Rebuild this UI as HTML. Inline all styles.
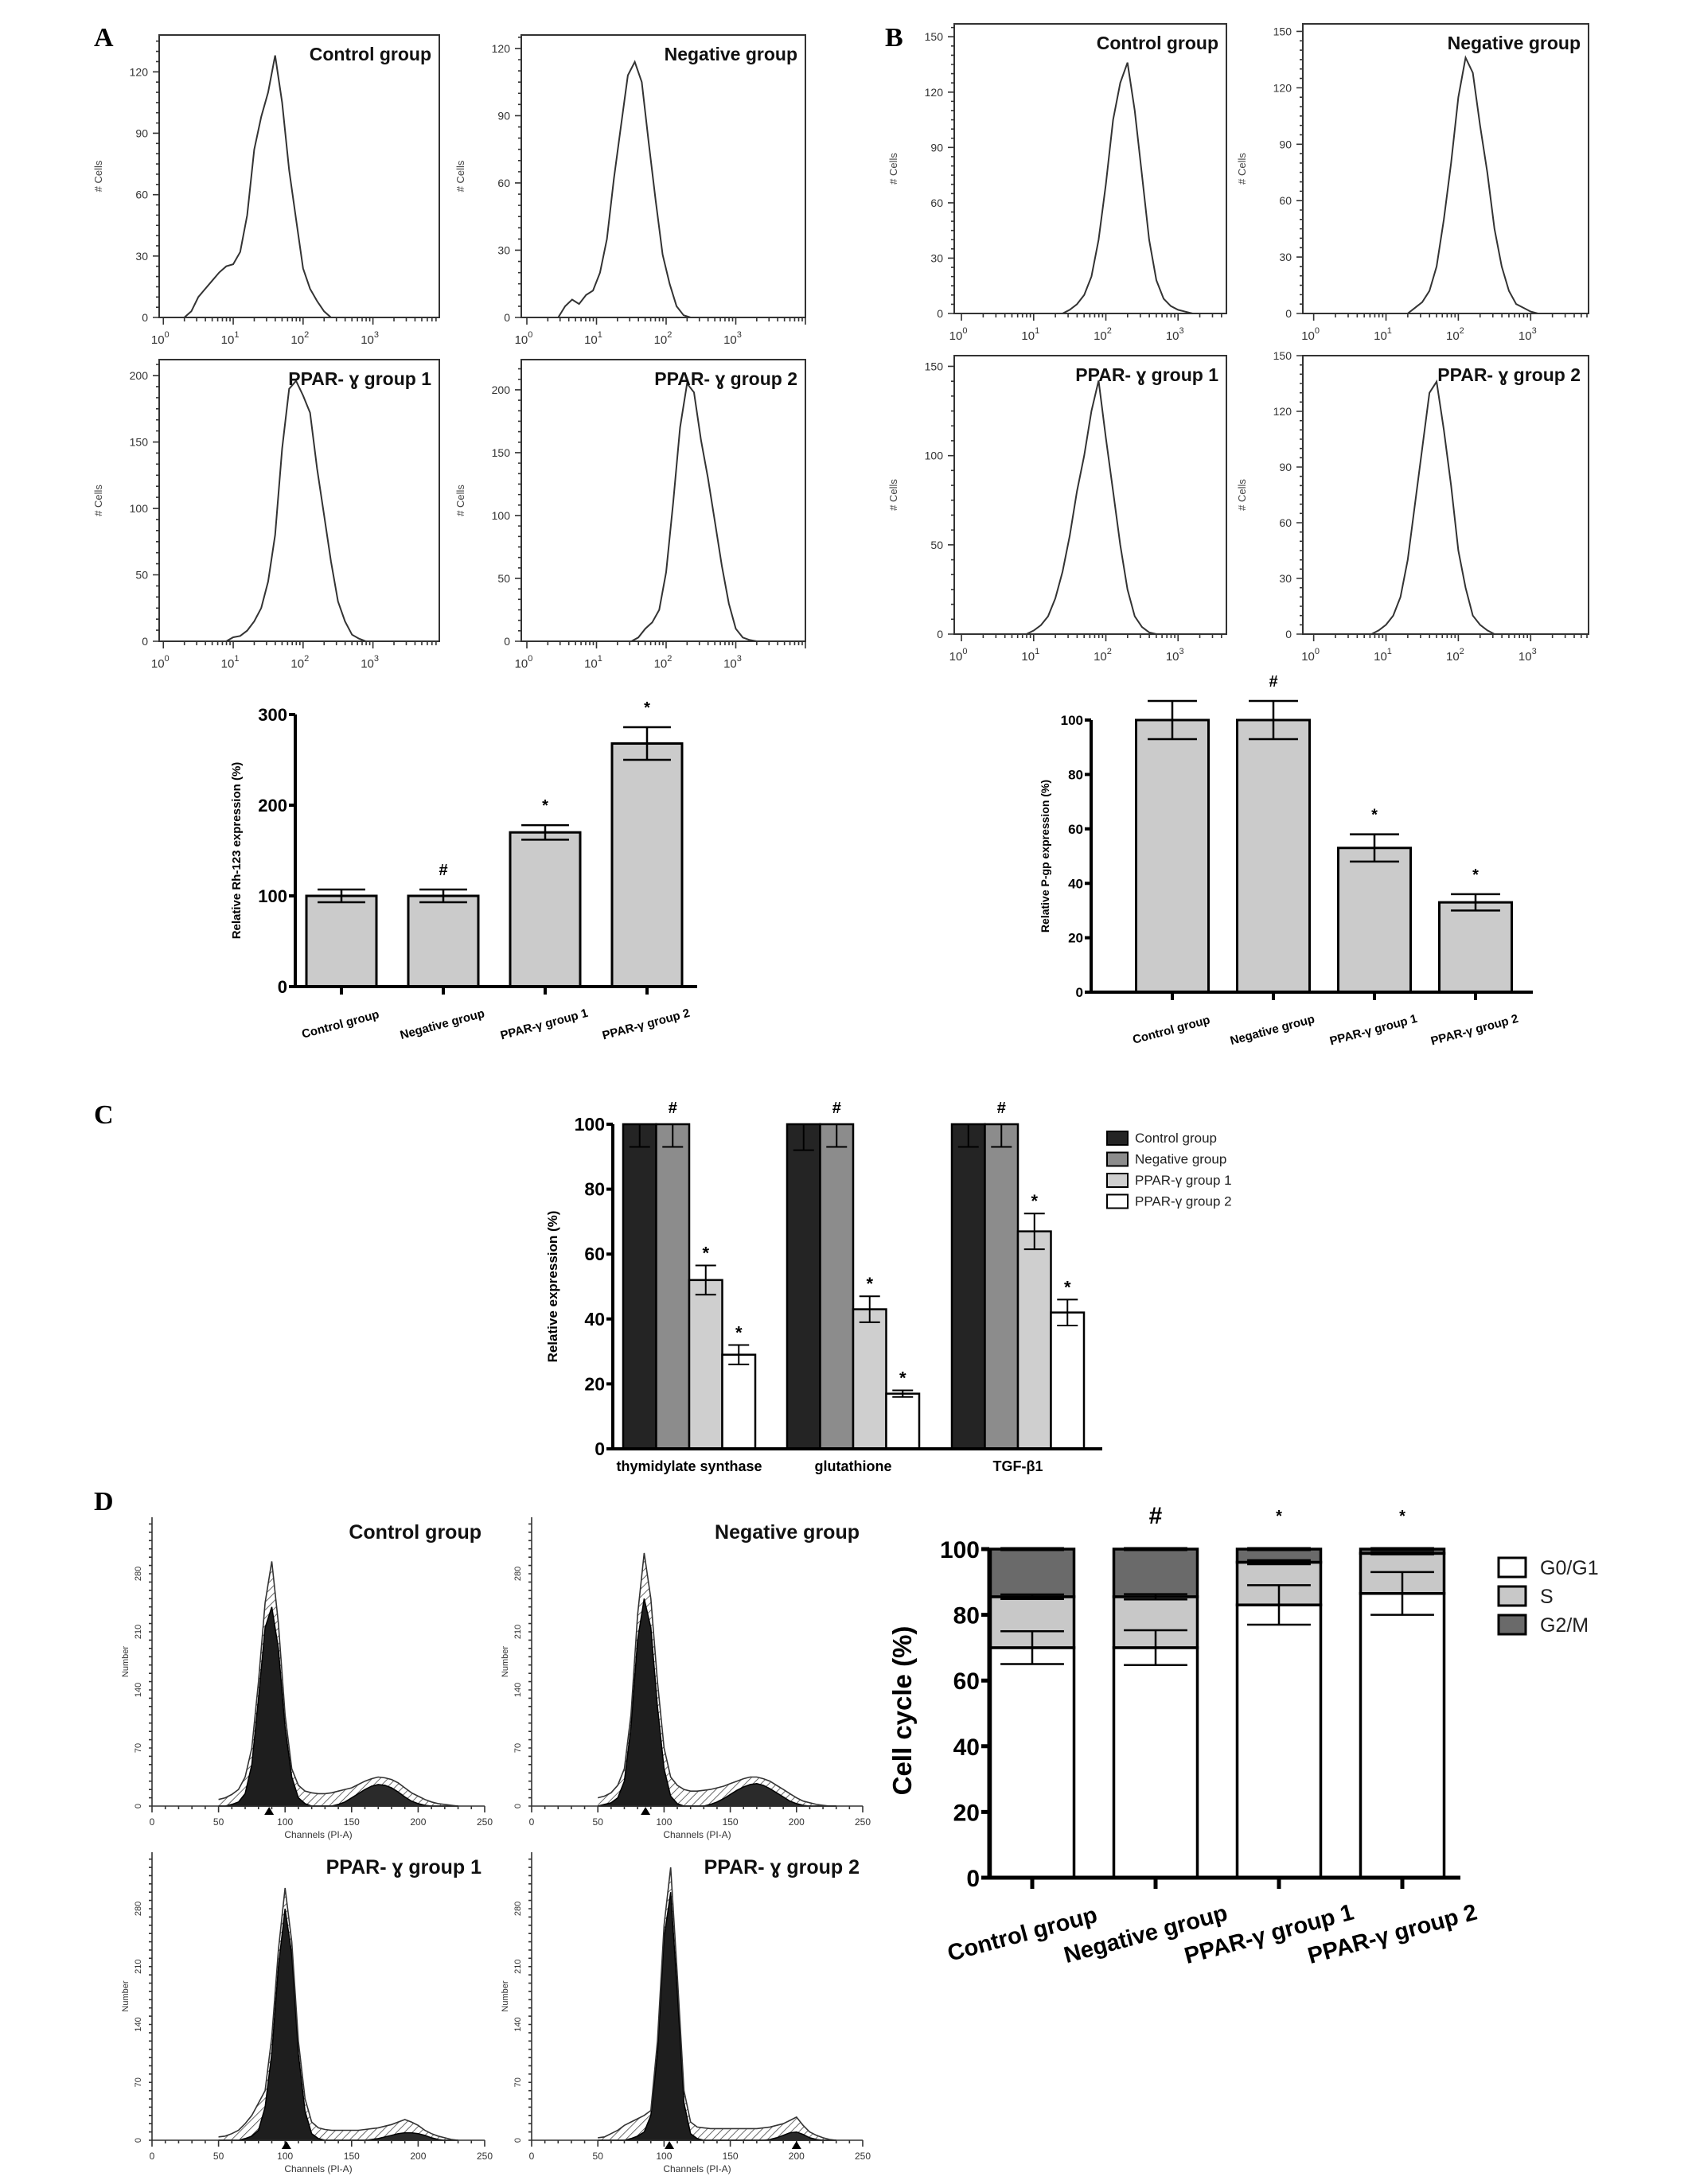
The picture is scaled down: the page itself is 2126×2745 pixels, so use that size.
<!DOCTYPE html>
<html><head><meta charset="utf-8"><style>
html,body{margin:0;padding:0;background:#fff;}
svg{display:block;font-family:"Liberation Sans",sans-serif;}
</style></head><body>
<svg id="fig" width="2126" height="2745" viewBox="0 0 2126 2745" xmlns="http://www.w3.org/2000/svg">
<defs><pattern id="hatch" width="7" height="7" patternUnits="userSpaceOnUse" patternTransform="rotate(45)"><line x1="0" y1="0" x2="0" y2="7" stroke="#444" stroke-width="1.6"/></pattern></defs>
<rect x="0" y="0" width="2126" height="2745" fill="#fff"/>
<text x="118" y="58" font-family="Liberation Serif,serif" font-weight="bold" font-size="34">A</text>
<text x="1112" y="58" font-family="Liberation Serif,serif" font-weight="bold" font-size="34">B</text>
<text x="118" y="1412" font-family="Liberation Serif,serif" font-weight="bold" font-size="34">C</text>
<text x="118" y="1898" font-family="Liberation Serif,serif" font-weight="bold" font-size="34">D</text>
</svg>
<script>
// ---------- data ----------
const groupNames=['Control group','Negative group','PPAR-γ group 1','PPAR-γ group 2'];
const histTitlesAB=['Control group','Negative group','PPAR- ɣ  group 1','PPAR- ɣ  group 2'];
const histAStart=[0.3,0.45,0.9,1.5];
const histACounts=[
 [0,3,10,14,18,22,25,26,32,50,82,98,110,128,105,72,48,24,14,8,3,0],
 [0,5,8,6,10,12,20,35,62,85,108,114,105,78,52,28,15,5,1,0],
 [0,3,4,8,15,25,45,80,145,190,196,185,172,130,95,60,30,15,5,2,0],
 [0,3,10,15,25,55,110,170,205,198,160,130,95,60,30,10,3,1,0]
];
const histAYMax=[138,126,212,224];
const histAYStep=[30,30,50,50];
const histBStart=[1.4,1.3,0.9,0.8];
const histBCounts=[
 [0,2,5,10,20,40,70,105,125,136,110,75,40,18,8,4,2,1,0],
 [0,3,6,12,25,50,80,115,136,128,100,75,45,25,12,5,3,1,0],
 [0,2,5,10,20,35,55,80,100,125,142,110,80,50,25,10,4,1,0],
 [0,2,5,10,20,40,70,100,130,136,110,80,45,25,10,5,2,0]
];
const histBYMax=[157,154,156,150];
const histBYStep=[30,30,50,30];
const rhValues=[100,100,170,268];
const rhErrors=[7,7,8,18];
const rhMarks=['','#','*','*'];
const rhTicks=[0,100,200,300];
const pgpValues=[100,100,53,33];
const pgpErrors=[7,7,5,3];
const pgpMarks=['','#','*','*'];
const pgpTicks=[0,20,40,60,80,100];
const cCategories=['thymidylate synthase','glutathione','TGF-β1'];
const cSeriesNames=['Control group','Negative group','PPAR-γ  group 1','PPAR-γ  group 2'];
const cControl=[100,100,100];
const cNegative=[100,100,100];
const cGroup1=[52,43,67];
const cGroup2=[29,17,42];
const cControlErr=[7,8,7];
const cNegativeErr=[7,7,7];
const cGroup1Err=[4.5,4,5.5];
const cGroup2Err=[3,1,4];
const cTicks=[0,20,40,60,80,100];
const dChannelStart=50;
const dOutline=[
 [8,10,14,20,35,70,150,245,295,220,110,45,25,18,16,15,15,16,18,20,22,26,30,33,35,34,32,28,22,16,12,8,5,3,2,1,0],
 [10,12,16,25,45,110,230,305,250,150,70,35,25,20,18,18,19,20,22,24,27,30,33,35,35,33,30,25,20,15,10,6,4,2,1,0,0],
 [4,5,8,12,20,30,45,60,125,230,305,240,120,50,22,15,13,12,12,12,12,12,13,14,15,17,19,22,25,22,18,12,8,5,3,1,0],
 [3,4,8,12,18,22,26,30,36,120,260,330,200,60,22,16,15,14,14,14,14,14,14,14,14,15,16,18,20,24,28,18,10,6,3,1,0]
];
const dG1Fill=[
 [0,0,2,5,15,50,130,215,240,190,95,35,10,3,0,0,0,0,0,0,0,0,0,0,0,0,0,0,0,0,0,0,0,0,0,0,0],
 [0,2,4,10,30,95,200,250,215,120,45,12,3,0,0,0,0,0,0,0,0,0,0,0,0,0,0,0,0,0,0,0,0,0,0,0,0],
 [0,0,0,0,2,5,12,40,105,210,280,225,105,35,8,2,0,0,0,0,0,0,0,0,0,0,0,0,0,0,0,0,0,0,0,0,0],
 [0,0,0,0,0,2,5,10,30,105,245,300,180,45,8,2,0,0,0,0,0,0,0,0,0,0,0,0,0,0,0,0,0,0,0,0,0]
];
const dG2Fill=[
 [0,0,0,0,0,0,0,0,0,0,0,0,0,0,0,0,0,0,2,5,10,15,20,24,26,25,22,17,11,6,3,1,0,0,0,0,0],
 [0,0,0,0,0,0,0,0,0,0,0,0,0,0,0,0,0,2,5,9,14,19,23,26,27,25,21,16,11,6,3,1,0,0,0,0,0],
 [0,0,0,0,0,0,0,0,0,0,0,0,0,0,0,0,0,0,0,0,0,0,0,1,2,4,6,8,9,9,8,6,3,1,0,0,0],
 [0,0,0,0,0,0,0,0,0,0,0,0,0,0,0,0,0,0,0,0,0,0,0,0,0,0,1,3,6,9,10,7,3,1,0,0,0]
];
const dPeakG1=[88,86,101,104];
const dPeakG2=[0,0,0,200];
const dTitles=['Control group','Negative group','PPAR- ɣ  group 1','PPAR- ɣ  group 2'];
const dYTicks=[0,70,140,210,280];
const dXTicks=[0,50,100,150,200,250];
const ccG0G1=[70,70,83,86.5];
const ccS=[15.5,15.5,13,12.2];
const ccG2M=[14.5,14.5,4,1.3];
const ccG0G1Err=[5,5.3,6,6.5];
const ccSErr=[0.7,0.8,0.6,0.3];
const ccG2MErr=[0.3,0.3,0.3,0.3];
const ccMarks=['','#','*','*'];
const ccLegend=['G0/G1','S','G2/M'];
const ccTicks=[0,20,40,60,80,100];

// ---------- helpers ----------
const NS='http://www.w3.org/2000/svg';
const svg=document.getElementById('fig');
function mk(tag,attrs,parent){const e=document.createElementNS(NS,tag);for(const k in attrs)e.setAttribute(k,attrs[k]);(parent||svg).appendChild(e);return e;}
function txt(str,attrs,parent){const e=mk('text',attrs,parent);e.textContent=str;return e;}

function logHist(box,xmin,xmax,ymax,ystep,start,counts,title,nm){
  const g=mk('g',{});
  
  
  const sx=v=>box.x+(v-xmin)/(xmax-xmin)*box.w;
  const sy=v=>box.y+box.h-v/ymax*box.h;
  const fr=mk('rect',{x:box.x,y:box.y,width:box.w,height:box.h,fill:'none',stroke:'#333','stroke-width':2},g);
  
  
  let d='';
  for(let v=0;v<=ymax+0.01;v+=ystep/6){const y=sy(v);const major=Math.abs(v/ystep-Math.round(v/ystep))<0.01;d+=`M${box.x-(major?8:4)},${y}H${box.x}`;}
  for(let k=0;k<=4;k++){for(let m=1;m<10;m++){const lv=k+Math.log10(m);if(lv<xmin||lv>xmax)continue;d+=`M${sx(lv)},${box.y+box.h}v${m==1?9:5}`;}}
  const tk=mk('path',{d:d,stroke:'#333','stroke-width':1.6,fill:'none'},g);
  
  
  for(let v=0;v<=ymax;v+=ystep){
    const t=txt(String(v),{x:box.x-14,y:sy(v)+5,'text-anchor':'end','font-size':14,fill:'#333'},g);
    
    
  }
  for(let k=0;k<=3;k++){
    const t=txt('10',{x:sx(k)-4,y:box.y+box.h+33,'text-anchor':'middle','font-size':15,fill:'#333'},g);
    
    
    const s=mk('tspan',{dy:-8,'font-size':11},t);s.textContent=String(k);
  }
  const yl=txt('# Cells',{x:0,y:0,transform:`translate(${box.x-72},${box.y+box.h/2}) rotate(-90)`,'text-anchor':'middle','font-size':13,fill:'#444'},g);
  
  
  const pts=counts.map((c,i)=>sx(start+i*0.1).toFixed(1)+','+sy(c).toFixed(1)).join(' ');
  const pl=mk('polyline',{points:pts,fill:'none',stroke:'#333','stroke-width':2},g);
  
  
  const tt=txt(title,{x:box.x+box.w-10,y:box.y+32,'text-anchor':'end','font-size':23,'font-weight':'bold',fill:'#111'},g);
  
  
}
const boxesA=[{x:200,y:44,w:352,h:355,a:-0.06,b:3.95},{x:655,y:44,w:357,h:355,a:-0.08,b:4.0},{x:200,y:452,w:352,h:354,a:-0.06,b:3.95},{x:655,y:452,w:357,h:354,a:-0.08,b:4.0}];
const boxesB=[{x:1199,y:30,w:342,h:364,a:-0.1,b:3.67},{x:1637,y:30,w:359,h:364,a:-0.15,b:3.8},{x:1199,y:447,w:342,h:350,a:-0.1,b:3.67},{x:1637,y:447,w:359,h:350,a:-0.15,b:3.8}];
const histNamesA=['rh123-hist-control','rh123-hist-negative','rh123-hist-group1','rh123-hist-group2'];
const histNamesB=['pgp-hist-control','pgp-hist-negative','pgp-hist-group1','pgp-hist-group2'];
for(let i=0;i<4;i++){const b=boxesA[i];logHist(b,b.a,b.b,histAYMax[i],histAYStep[i],histAStart[i],histACounts[i],histTitlesAB[i],histNamesA[i]);}
for(let i=0;i<4;i++){const b=boxesB[i];logHist(b,b.a,b.b,histBYMax[i],histBYStep[i],histBStart[i],histBCounts[i],histTitlesAB[i],histNamesB[i]);}

function barChart(o){
  const g=mk('g',{});
  
  
  const ys=v=>o.y0-(v/o.ymax)*(o.y0-o.yTop);
  o.values.forEach((v,i)=>{
    const cx=o.c0+i*o.step;
    const r=mk('rect',{x:cx-o.bw/2,y:ys(v),width:o.bw,height:o.y0-ys(v),fill:'#cbcbcb',stroke:'#000','stroke-width':3},g);
    
    
    const e=o.errors[i];const cw=o.bw*0.34;
    const eb=mk('path',{d:`M${cx},${ys(v+e)}V${ys(v-e)}M${cx-cw},${ys(v+e)}h${2*cw}M${cx-cw},${ys(v-e)}h${2*cw}`,stroke:'#000','stroke-width':2.5,fill:'none'},g);
    
    
    if(o.marks[i]){
      const m=txt(o.marks[i],{x:cx,y:ys(v+e)-18,'text-anchor':'middle','font-size':20,'font-weight':'bold'},g);
      
      
    }
    const xl=txt(o.cats[i],{x:0,y:0,transform:`translate(${cx},${o.y0+52}) rotate(-15)`,'text-anchor':'middle','font-size':o.xfs,'font-weight':'bold'},g);
    
    
  });
  let d=`M${o.x0},${o.yTop}V${o.y0}H${o.xEnd}`;
  o.ticks.forEach(t=>{d+=`M${o.x0-8},${ys(t)}h8`;});
  o.values.forEach((v,i)=>{d+=`M${o.c0+i*o.step},${o.y0}v10`;});
  const ax=mk('path',{d:d,stroke:'#000','stroke-width':4,fill:'none'},g);
  
  
  o.ticks.forEach(t=>{
    const l=txt(String(t),{x:o.x0-10,y:ys(t)+o.tfs*0.36,'text-anchor':'end','font-size':o.tfs,'font-weight':'bold'},g);
    
    
  });
  const yl=txt(o.ylabel,{x:0,y:0,transform:`translate(${o.ylx},${(o.y0+o.yTop)/2}) rotate(-90)`,'text-anchor':'middle','font-size':o.yfs,'font-weight':'bold'},g);
  
  
}
barChart({name:'rh123-bar-chart',values:rhValues,errors:rhErrors,marks:rhMarks,cats:groupNames,ticks:rhTicks,ymax:300,x0:371,y0:1240,yTop:898,xEnd:876,c0:429,step:128,bw:88,ylabel:'Relative Rh-123  expression (%)',ylx:302,yfs:15,tfs:22,xfs:15});
barChart({name:'pgp-bar-chart',values:pgpValues,errors:pgpErrors,marks:pgpMarks,cats:groupNames,ticks:pgpTicks,ymax:100,x0:1371,y0:1247,yTop:905,xEnd:1926,c0:1473,step:127,bw:91,ylabel:'Relative P-gp expression (%)',ylx:1318,yfs:14,tfs:17,xfs:15});

(function(){
  const g=mk('g',{});
  
  
  const x0=770,y0=1821,yTop=1413,xEnd=1385,gStart=[783,989,1196],bw=41.5;
  const ys=v=>y0-v/100*(y0-yTop);
  const series=[cControl,cNegative,cGroup1,cGroup2];
  const errs=[cControlErr,cNegativeErr,cGroup1Err,cGroup2Err];
  const fills=['#242424','#8c8c8c','#cfcfcf','#ffffff'];
  const snames=['control','negative','group1','group2'];
  cCategories.forEach((c,ci)=>{
    series.forEach((s,si)=>{
      const x=gStart[ci]+si*bw;const v=s[ci];const e=errs[si][ci];const cx=x+bw/2;
      const r=mk('rect',{x:x,y:ys(v),width:bw,height:y0-ys(v),fill:fills[si],stroke:'#000','stroke-width':2.5},g);
      
      
      const up=v>=100?0:e;const cw=13;
      const eb=mk('path',{d:`M${cx},${ys(v+up)}V${ys(v-e)}M${cx-cw},${ys(v-e)}h${2*cw}`+(up?`M${cx-cw},${ys(v+up)}h${2*cw}`:''),stroke:'#000','stroke-width':2,fill:'none'},g);
      
      
      if(si>=2){
        const m=txt('*',{x:cx,y:ys(v+e)-8,'text-anchor':'middle','font-size':22,'font-weight':'bold'},g);
        
        
      }
    });
    const h=txt('#',{x:gStart[ci]+bw*1.5,y:ys(100)-14,'text-anchor':'middle','font-size':20,'font-weight':'bold'},g);
    
    
    const xl=txt(c,{x:gStart[ci]+bw*2,y:y0+28,'text-anchor':'middle','font-size':18,'font-weight':'bold'},g);
    
    
  });
  let d=`M${x0},${yTop}V${y0}H${xEnd}`;
  cTicks.forEach(t=>{d+=`M${x0-8},${ys(t)}h8`;});
  const ax=mk('path',{d:d,stroke:'#000','stroke-width':4,fill:'none'},g);
  
  
  cTicks.forEach(t=>{
    const l=txt(String(t),{x:x0-10,y:ys(t)+8,'text-anchor':'end','font-size':23,'font-weight':'bold'},g);
    
    
  });
  const yl=txt('Relative  expression (%)',{x:0,y:0,transform:`translate(700,${(y0+yTop)/2}) rotate(-90)`,'text-anchor':'middle','font-size':17,'font-weight':'bold'},g);
  
  
  cSeriesNames.forEach((n,i)=>{
    const y=1430+i*26.5;
    const r=mk('rect',{x:1391,y:y-8,width:26,height:17,fill:fills[i],stroke:'#000','stroke-width':2},g);
    
    
    const t=txt(n,{x:1426,y:y+6,'font-size':17,fill:'#222'},g);
    
    
  });
})();

const dBoxes=[{x0:191,x1:609,y0:2270,y280:1978,top:1907},{x0:668,x1:1084,y0:2270,y280:1978,top:1907},{x0:191,x1:609,y0:2690,y280:2399,top:2328},{x0:668,x1:1084,y0:2690,y280:2399,top:2328}];
const dNames=['cellcycle-hist-control','cellcycle-hist-negative','cellcycle-hist-group1','cellcycle-hist-group2'];
dBoxes.forEach((b,k)=>{
  const g=mk('g',{});
  
  
  const sx=c=>b.x0+c/250*(b.x1-b.x0);
  const sy=v=>b.y0-v/280*(b.y0-b.y280);
  const area=arr=>{let p=`M${sx(dChannelStart)},${b.y0}`;arr.forEach((v,i)=>{p+=`L${sx(dChannelStart+i*5).toFixed(1)},${sy(v).toFixed(1)}`;});return p+`L${sx(dChannelStart+(arr.length-1)*5)},${b.y0}Z`;};
  const ha=mk('path',{d:area(dOutline[k]),fill:'url(#hatch)',stroke:'none'},g);
  
  
  const g1=mk('path',{d:area(dG1Fill[k]),fill:'#1e1e1e',stroke:'#000','stroke-width':1.5},g);
  
  
  const g2=mk('path',{d:area(dG2Fill[k]),fill:'#2a2a2a',stroke:'#000','stroke-width':1.5},g);
  
  
  const ol=mk('polyline',{points:dOutline[k].map((v,i)=>sx(dChannelStart+i*5).toFixed(1)+','+sy(v).toFixed(1)).join(' '),fill:'none',stroke:'#333','stroke-width':1.6},g);
  
  
  let d=`M${b.x0},${b.top}V${b.y0}H${b.x1}`;
  for(let v=0;v<=b.y0-b.top;v+=(b.y0-b.y280)/28){d+=`M${b.x0-4},${b.y0-v}h4`;}
  for(let c=0;c<=250;c+=10){d+=`M${sx(c)},${b.y0}v${c%50==0?8:4}`;}
  const ax=mk('path',{d:d,stroke:'#333','stroke-width':1.6,fill:'none'},g);
  
  
  dYTicks.forEach(t=>{
    const l=txt(String(t),{x:0,y:0,transform:`translate(${b.x0-14},${sy(t)}) rotate(-90)`,'text-anchor':'middle','font-size':11,fill:'#333'},g);
    
    
  });
  dXTicks.forEach(t=>{
    const l=txt(String(t),{x:sx(t),y:b.y0+24,'text-anchor':'middle','font-size':12,fill:'#333'},g);
    
    
  });
  const xt=txt('Channels (PI-A)',{x:sx(125),y:b.y0+40,'text-anchor':'middle','font-size':12,fill:'#333'},g);
  
  
  const yt=txt('Number',{x:0,y:0,transform:`translate(${b.x0-30},${(b.y0+b.top)/2}) rotate(-90)`,'text-anchor':'middle','font-size':11,fill:'#333'},g);
  
  
  [dPeakG1[k],dPeakG2[k]].forEach(p=>{if(!p)return;
    const tr=mk('path',{d:`M${sx(p)-6},${b.y0+11}L${sx(p)+6},${b.y0+11}L${sx(p)},${b.y0+1}Z`,fill:'#000'},g);
    
    
  });
  const tt=txt(dTitles[k],{x:b.x1-4,y:b.top+27,'text-anchor':'end','font-size':25,'font-weight':'bold',fill:'#111'},g);
  
  
});

(function(){
  const g=mk('g',{});
  
  
  const x0=1243,y0=2360,yTop=1947,xEnd=1835,c0=1297,step=155,bw=105;
  const ys=v=>y0-v/100*(y0-yTop);
  const fills=['#ffffff','#c8c8c8','#6a6a6a'];
  groupNames.forEach((n,i)=>{
    const cx=c0+i*step;
    const segs=[ccG0G1[i],ccS[i],ccG2M[i]];const errs=[ccG0G1Err[i],ccSErr[i],ccG2MErr[i]];
    const segNames=['g0g1','s','g2m'];
    let base=0;
    segs.forEach((v,si)=>{
      const r=mk('rect',{x:cx-bw/2,y:ys(base+v),width:bw,height:ys(base)-ys(base+v),fill:fills[si],stroke:'#000','stroke-width':3.5},g);
      
      
      base+=v;
    });
    base=0;
    segs.forEach((v,si)=>{
      base+=v;const e=errs[si];const cw=bw*0.38;
      const eb=mk('path',{d:`M${cx},${ys(base+e)}V${ys(base-e)}M${cx-cw},${ys(base+e)}h${2*cw}M${cx-cw},${ys(base-e)}h${2*cw}`,stroke:'#000','stroke-width':2.5,fill:'none'},g);
      
      
    });
    if(ccMarks[i]){
      const m=txt(ccMarks[i],{x:cx,y:ccMarks[i]=='#'?1915:1912,'text-anchor':'middle','font-size':ccMarks[i]=='#'?30:20,'font-weight':'bold'},g);
      
      
    }
    const xl=txt(n,{x:0,y:0,transform:`translate(${cx-10},${y0+80}) rotate(-15)`,'text-anchor':'middle','font-size':29,'font-weight':'bold'},g);
    
    
  });
  let d=`M${x0},${yTop}V${y0}H${xEnd}`;
  ccTicks.forEach(t=>{d+=`M${x0-10},${ys(t)}h10`;});
  groupNames.forEach((n,i)=>{d+=`M${c0+i*step},${y0}v14`;});
  const ax=mk('path',{d:d,stroke:'#000','stroke-width':5,fill:'none'},g);
  
  
  ccTicks.forEach(t=>{
    const l=txt(String(t),{x:x0-12,y:ys(t)+11,'text-anchor':'end','font-size':30,'font-weight':'bold'},g);
    
    
  });
  const yl=txt('Cell cycle (%)',{x:0,y:0,transform:`translate(1145,2150) rotate(-90)`,'text-anchor':'middle','font-size':33,'font-weight':'bold'},g);
  
  
  ccLegend.forEach((n,i)=>{
    const y=1970+i*36;
    const r=mk('rect',{x:1883,y:y-12,width:34,height:24,fill:fills[i],stroke:'#000','stroke-width':3},g);
    
    
    const t=txt(n,{x:1935,y:y+9,'font-size':25,fill:'#222'},g);
    
    
  });
})();
</script>
</body></html>
